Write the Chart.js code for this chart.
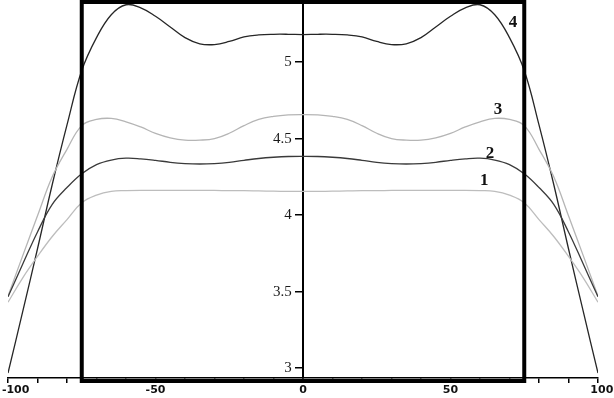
<!DOCTYPE html>
<html lang="en">

<head>
    <meta charset="UTF-8">
    <title>Profiles</title>
    <script src="https://cdn.jsdelivr.net/npm/chart.js"></script>
    <style>
        html, body { margin: 0; padding: 0; background: #fff; }
        canvas { display: block; }
    </style>
</head>

<body>
    <canvas id="profile-chart" width="614" height="398"></canvas>
    <script>
        // x positions of the sampled points
        const xs = [-100, -95, -90, -85, -80, -75, -70, -65, -60, -55, -50, -45, -40, -35, -30, -25, -20, -15, -10, -5,
            0, 5, 10, 15, 20, 25, 30, 35, 40, 45, 50, 55, 60, 65, 70, 75, 80, 85, 90, 95, 100];

        const curve1 = [3.43, 3.59, 3.73, 3.86, 3.97, 4.08, 4.13, 4.155, 4.16, 4.162, 4.162, 4.162, 4.162, 4.162, 4.161, 4.16, 4.16, 4.158, 4.156, 4.155,
            4.155, 4.155, 4.156, 4.158, 4.16, 4.16, 4.161, 4.162, 4.162, 4.162, 4.162, 4.162, 4.16, 4.155, 4.13, 4.08, 3.97, 3.86, 3.73, 3.59, 3.43];
        const curve2 = [3.466, 3.68, 3.89, 4.07, 4.18, 4.27, 4.33, 4.36, 4.372, 4.368, 4.358, 4.345, 4.337, 4.334, 4.337, 4.345, 4.358, 4.37, 4.378, 4.383,
            4.384, 4.383, 4.378, 4.37, 4.358, 4.345, 4.337, 4.334, 4.337, 4.345, 4.358, 4.368, 4.372, 4.36, 4.33, 4.27, 4.18, 4.07, 3.89, 3.68, 3.466];
        const curve3 = [3.47, 3.735, 3.995, 4.25, 4.43, 4.585, 4.625, 4.632, 4.61, 4.576, 4.534, 4.505, 4.49, 4.49, 4.50, 4.535, 4.585, 4.625, 4.645, 4.655,
            4.657, 4.655, 4.645, 4.625, 4.585, 4.535, 4.50, 4.49, 4.49, 4.505, 4.534, 4.576, 4.61, 4.632, 4.625, 4.585, 4.43, 4.25, 3.995, 3.735, 3.47];
        const curve4 = [2.967, 3.37, 3.78, 4.20, 4.59, 4.945, 5.16, 5.31, 5.375, 5.355, 5.30, 5.23, 5.16, 5.12, 5.115, 5.135, 5.165, 5.178, 5.182, 5.182,
            5.18, 5.182, 5.182, 5.178, 5.165, 5.135, 5.115, 5.12, 5.16, 5.23, 5.30, 5.355, 5.375, 5.31, 5.16, 4.945, 4.59, 4.20, 3.78, 3.37, 2.967];

        const xTicks = [-100, -90, -80, -70, -60, -50, -40, -30, -20, -10, 0, 10, 20, 30, 40, 50, 60, 70, 80, 90, 100];
        const xLabels = [-100, -50, 0, 50, 100];
        const yTicks = [3, 3.5, 4, 4.5, 5];

        // the frame drawn over the middle part, and the curve numbers
        const boxRange = [-75, 75];
        const curveNames = ['1', '2', '3', '4'];
        const nameX = [61.4, 63.4, 66.1, 71.2];
        const nameY = [4.225, 4.403, 4.691, 5.256];

        function toPoints(vals) {
            return xs.map((x, i) => ({ x: x, y: vals[i] }));
        }

        // end labels sit a little inside the canvas edge, as in the original
        function xLabel(v) {
            if (!xLabels.includes(v)) return '';
            if (v === -100) return '    ' + v;
            if (v === 100) return '  ' + v;
            return String(v);
        }

        const framePlugin = {
            id: 'frame',
            afterDatasetsDraw(chart) {
                const { ctx, chartArea, scales: { x, y } } = chart;
                const left = x.getPixelForValue(boxRange[0]);
                const right = x.getPixelForValue(boxRange[1]);
                ctx.save();
                ctx.strokeStyle = '#000';
                ctx.lineWidth = 4;
                ctx.strokeRect(left, chartArea.top, right - left, chartArea.bottom + 3 - chartArea.top);
                ctx.fillStyle = '#111';
                ctx.font = 'bold 17px "Liberation Serif", serif';
                ctx.textAlign = 'center';
                ctx.textBaseline = 'middle';
                curveNames.forEach((name, i) => {
                    ctx.fillText(name, x.getPixelForValue(nameX[i]), y.getPixelForValue(nameY[i]));
                });
                ctx.restore();
            }
        };

        const line = (label, vals, color) => ({
            label: label,
            data: toPoints(vals),
            borderColor: color,
            borderWidth: 1.3,
            pointRadius: 0,
            fill: false,
            tension: 0.4
        });

        new Chart(document.getElementById('profile-chart').getContext('2d'), {
            type: 'line',
            data: {
                datasets: [
                    line('1', curve1, '#bdbdbd'),
                    line('2', curve2, '#3a3a3a'),
                    line('3', curve3, '#b5b5b5'),
                    line('4', curve4, '#262626')
                ]
            },
            options: {
                responsive: false,
                animation: false,
                devicePixelRatio: 1,
                layout: { padding: { left: 8, right: 16, top: 2, bottom: 0 } },
                plugins: { legend: { display: false }, tooltip: { enabled: false } },
                scales: {
                    x: {
                        type: 'linear',
                        min: -100,
                        max: 100,
                        position: 'bottom',
                        grid: { drawOnChartArea: false, drawTicks: true, tickLength: 5, color: '#000', lineWidth: 1.5 },
                        border: { color: '#000', width: 1.5 },
                        ticks: {
                            autoSkip: false,
                            maxRotation: 0,
                            padding: 1,
                            color: '#111',
                            font: { family: '"DejaVu Sans", sans-serif', size: 11, weight: 'bold' },
                            callback: xLabel
                        },
                        afterBuildTicks: s => { s.ticks = xTicks.map(v => ({ value: v })); },
                        afterFit: s => { s.height = 20; s.paddingLeft = 0; s.paddingRight = 0; }
                    },
                    y: {
                        type: 'linear',
                        min: 2.935,
                        max: 5.393,
                        position: { x: 0 },
                        grid: { drawOnChartArea: false, drawTicks: true, tickLength: 7, color: '#000', lineWidth: 1.5 },
                        border: { color: '#000', width: 2 },
                        ticks: {
                            color: '#1a1a1a',
                            font: { family: '"Liberation Serif", serif', size: 15 },
                            // trailing spaces keep the right-aligned text clear of the tick mark
                            callback: v => v + '   '
                        },
                        afterBuildTicks: s => { s.ticks = yTicks.map(v => ({ value: v })); },
                        afterFit: s => { s.paddingTop = 0; s.paddingBottom = 0; }
                    }
                }
            },
            plugins: [framePlugin]
        });
    </script>
</body>

</html>
